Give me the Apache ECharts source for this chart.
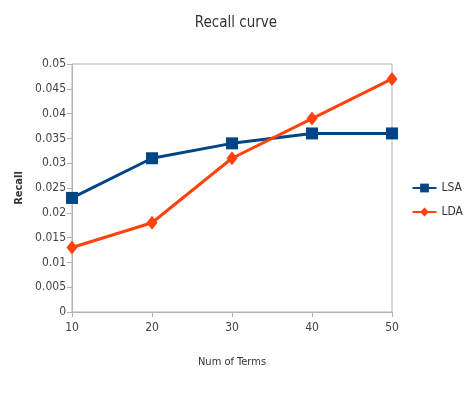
<!DOCTYPE html>
<html>
<head>
<meta charset="utf-8">
<script src="https://cdn.jsdelivr.net/npm/echarts@6/dist/echarts.min.js"></script>
<style>
  html, body { margin: 0; padding: 0; background: #fff; }
  #chart { width: 472px; height: 398px; }
</style>
</head>
<body>
<div id="chart"></div>
<script>
const terms = [10, 20, 30, 40, 50];
const lsa = [0.023, 0.031, 0.034, 0.036, 0.036];
const lda = [0.013, 0.018, 0.031, 0.039, 0.047];

const font = "'DejaVu Sans Condensed', 'Liberation Sans', sans-serif";
const gray = '#b3b3b3';

let chart = echarts.init(document.getElementById('chart'));
let option = {
	animation: false,
	title: {
		text: 'Recall curve',
		left: 'center',
		top: 11,
		textStyle: { fontFamily: font, fontSize: 15, fontWeight: 'normal', color: '#333' }
	},
	legend: {
		orient: 'vertical',
		right: 4,
		top: 177,
		itemWidth: 24,
		itemHeight: 11,
		itemGap: 12,
		textStyle: { fontFamily: font, fontSize: 12, color: '#333' },
		data: ['LSA', 'LDA']
	},
	grid: {
		left: 72, right: 80, top: 64, bottom: 86,
		show: true,
		borderColor: gray,
		borderWidth: 1
	},
	xAxis: {
		type: 'value',
		min: 10, max: 50, interval: 10,
		name: 'Num of Terms',
		nameLocation: 'middle',
		nameGap: 45,
		nameTextStyle: { fontFamily: font, fontSize: 11, color: '#333' },
		axisLine: { lineStyle: { color: gray } },
		axisTick: { show: true, length: 5, lineStyle: { color: gray } },
		axisLabel: { fontFamily: font, fontSize: 12, color: '#444', margin: 10 },
		splitLine: { show: false }
	},
	yAxis: {
		type: 'value',
		min: 0, max: 0.05, interval: 0.005,
		name: 'Recall',
		nameLocation: 'middle',
		nameGap: 40,
		nameTextStyle: { fontFamily: font, fontSize: 11, fontWeight: 'bold', color: '#333' },
		axisLine: { show: true, lineStyle: { color: gray } },
		axisTick: { show: true, length: 5, lineStyle: { color: gray } },
		axisLabel: { fontFamily: font, fontSize: 12, color: '#444', margin: 6 },
		splitLine: { show: false }
	},
	series: [{
			name: 'LSA',
			type: 'line',
			data: terms.map((t, i) => [t, lsa[i]]),
			symbol: 'rect',
			symbolSize: 12,
			color: '#004586',
			lineStyle: { width: 3 }
		},
		{
			name: 'LDA',
			type: 'line',
			data: terms.map((t, i) => [t, lda[i]]),
			symbol: 'diamond',
			symbolSize: [11, 14],
			color: '#ff420e',
			lineStyle: { width: 3 }
		}
	]
};
chart.setOption(option);
</script>
</body>
</html>
